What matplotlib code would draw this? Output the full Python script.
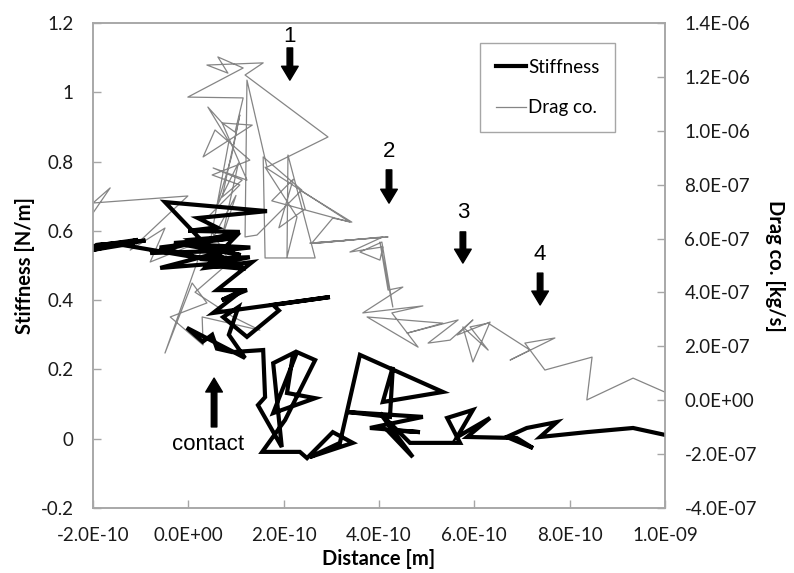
import numpy as np
import matplotlib
matplotlib.use("Agg")
import matplotlib.pyplot as plt
from matplotlib.lines import Line2D

# distance in units of 1e-10 m, stiffness in N/m
dist_stiff = [-2.00, -1.06, -2.00, -1.12, -1.94, -0.90, -1.50,
              0.30, -0.60, 0.90, -0.30, 1.10, 0.20, 1.30, 0.50,
              -0.49, 1.65, 0.20, 0.60, 0.00, 1.08, -0.80,
              0.77, -0.59, 1.00, 0.24, 1.29, 0.40, 1.20,
              0.03, 1.00, 0.35, 1.34, 0.60, 1.23, 0.70, 1.15,
              0.52, 2.97, 1.78, 1.90, 1.23, 0.73, 1.05, 0.85,
              1.19, -0.03, 0.30, 0.50, 0.60, 0.92, 1.57,
              1.61, 1.46, 1.96, 1.78, 2.20,
              2.07, 2.66, 1.78, 2.28, 2.66,
              2.03, 1.55, 2.34, 2.49, 3.03,
              3.45, 2.55, 3.18, 3.60, 5.34,
              4.08, 4.29, 4.23, 3.35, 4.92,
              3.81, 4.86, 4.17, 4.71, 4.02,
              4.65, 5.70, 5.43, 5.97, 5.64,
              6.33, 5.85, 6.89, 7.23, 6.68,
              7.10, 7.73, 7.38, 8.36, 9.33, 10.00]
stiffness = [0.556, 0.574, 0.545, 0.565, 0.559, 0.572, 0.562,
             0.520, 0.552, 0.578, 0.565, 0.530, 0.560, 0.552, 0.540,
             0.683, 0.657, 0.637, 0.610, 0.600, 0.597, 0.536,
             0.542, 0.493, 0.510, 0.519, 0.524, 0.500, 0.490,
             0.574, 0.585, 0.493, 0.510, 0.429, 0.429, 0.400, 0.430,
             0.363, 0.409, 0.386, 0.370, 0.294, 0.351, 0.380, 0.300,
             0.233, 0.320, 0.280, 0.300, 0.260, 0.250, 0.256,
             0.120, 0.097, -0.024, 0.218, 0.247,
             0.132, 0.117, 0.074, 0.250, 0.227,
             0.054, -0.038, -0.038, -0.056, 0.019,
             -0.012, -0.053, -0.012, 0.242, 0.135,
             0.106, 0.207, 0.063, 0.077, 0.063,
             0.031, 0.019, 0.025, -0.053, 0.074,
             -0.012, -0.012, 0.060, 0.083, 0.005,
             0.060, 0.005, 0.002, -0.027, 0.005,
             0.031, 0.048, 0.005, 0.019, 0.031, 0.011]

# distance in units of 1e-10 m, drag coefficient in units of 1e-7 kg/s
dist_drag = [-2.00, -1.64, -2.00, -0.01, -1.22, -0.49, -0.80, 0.35,
             -0.49, 0.08, 0.39, -0.38, 0.31, 0.29, 1.50, 0.94,
             0.14, 0.87, 0.35, 1.08, 0.50, 1.29, 0.56,
             0.31, 1.34, 0.71, 1.23, 0.52, 1.13, 0.71, 1.08,
             0.90, 0.60, 1.05, 0.70, 1.00, 0.45, 0.85,
             0.41, 0.71, 0.98, 1.15, -0.01, 1.15, 0.62, 0.83,
             0.39, 1.57, 1.19, 2.93, 1.65, 1.23, 1.19, 1.44, 2.38,
             1.57, 1.61, 2.66, 2.09, 2.07, 2.28, 1.61, 3.39,
             1.75, 2.20, 1.90, 2.45,
             2.34, 3.43, 3.03, 2.59, 4.19, 2.55, 3.45, 2.70, 4.08,
             3.39, 4.08, 4.02, 3.60, 4.06, 4.29, 4.02, 4.19, 4.50,
             3.66, 4.92, 4.27, 4.82, 3.75, 5.34, 4.59, 5.66, 5.03,
             5.49, 5.97, 5.64, 6.33, 5.97, 5.76, 6.29, 5.91, 6.29,
             7.17, 6.75, 7.69, 7.06, 7.48, 8.47, 8.36, 9.33, 10.00]
drag = [6.95, 7.88, 7.32, 7.58, 5.57, 6.39, 5.13, 5.95,
        1.75, 4.35, 3.61, 3.09, 2.05, 3.09, 2.60, 3.09,
        4.01, 5.13, 6.69, 7.99, 8.36, 8.91, 10.03,
        9.03, 10.21, 10.29, 8.17, 8.62, 8.17, 7.54, 10.59,
        9.00, 7.20, 8.80, 6.00, 7.60, 5.80, 9.60,
        10.88, 10.29, 9.95, 11.22, 11.25, 12.33, 12.74, 12.14,
        12.44, 12.52, 12.07, 9.77, 8.65, 11.88, 6.06, 6.13, 7.80,
        9.03, 5.28, 5.28, 9.10, 5.31, 6.80, 8.65, 6.61,
        7.40, 8.20, 6.40, 7.10,
        7.80, 6.61, 6.76, 5.83, 6.06, 5.83, 5.95, 5.83, 6.06,
        5.50, 5.69, 5.20, 5.50, 5.87, 3.46, 5.87, 4.09, 4.20,
        3.24, 3.50, 3.24, 1.97, 3.09, 2.86, 2.49, 2.98, 2.12,
        2.23, 2.98, 2.42, 2.90, 1.42, 2.72, 1.86, 2.72, 2.86,
        1.86, 1.49, 2.31, 2.12, 1.12, 1.60, 0.01, 0.82, 0.30]

x_ticks = [-2e-10, 0.0, 2e-10, 4e-10, 6e-10, 8e-10, 1e-9]
left_ticks = [-0.2, 0.0, 0.2, 0.4, 0.6, 0.8, 1.0, 1.2]
right_ticks = [-4e-7, -2e-7, 0.0, 2e-7, 4e-7, 6e-7, 8e-7, 1e-6, 1.2e-6, 1.4e-6]

marks = ["1", "2", "3", "4"]

plt.rcParams['font.family'] = ['Lato', 'DejaVu Sans']
plt.rcParams['axes.unicode_minus'] = False

grey = '#a6a6a6'
fig = plt.figure(figsize=(7.94, 5.73), dpi=100)
ax = fig.add_axes([93/794, 65/573, 572/794, 485/573])
ax2 = ax.twinx()

xs = np.array(dist_stiff) * 1e-10
xd = np.array(dist_drag) * 1e-10
ax2.plot(xd, np.array(drag) * 1e-7, color='#858585', lw=0.9)
ax.plot(xs, stiffness, color='black', lw=3.0, solid_joinstyle='miter')

# stiffness drawn over the drag trace
ax.set_zorder(ax2.get_zorder() + 1)
ax.patch.set_visible(False)

ax.set_xlim(-2e-10, 1e-9)
ax.set_ylim(-0.2, 1.2)
ax2.set_ylim(-4e-7, 1.4e-6)


def sci(v):
    if abs(v) < 1e-20:
        v = 0.0
    return format(v, '.1E')


def plain(v):
    if abs(v) < 1e-9:
        return '0'
    return '%g' % round(v, 2)


ax.set_xticks(x_ticks)
ax.set_xticklabels([sci(v) for v in x_ticks])
ax.set_yticks(left_ticks)
ax.set_yticklabels([plain(v) for v in left_ticks])
ax2.set_yticks(right_ticks)
ax2.set_yticklabels([sci(v) for v in right_ticks])

for a in (ax, ax2):
    a.tick_params(direction='in', length=6, width=1, color=grey,
                  labelsize=13.5, pad=14, labelcolor='#1a1a1a')
    for s in a.spines.values():
        s.set_color(grey)
        s.set_linewidth(1.1)
ax.tick_params(axis='x', pad=14)

ax.set_xlabel('Distance [m]', fontsize=14.5, fontweight='bold', labelpad=3)
ax.set_ylabel('Stiffness [N/m]', fontsize=14.5, fontweight='bold', labelpad=4)
ax2.set_ylabel('Drag co. [kg/s]', fontsize=14.5, fontweight='bold',
               rotation=270, labelpad=20)

# numbered arrows and the contact arrow
arrow = dict(facecolor='black', edgecolor='black', width=4, headwidth=12,
             headlength=10, shrink=0)
arrow_x = [2.13e-10, 4.21e-10, 5.76e-10, 7.38e-10]
arrow_top = [1.128, 0.776, 0.597, 0.478]
arrow_tip = [1.035, 0.680, 0.507, 0.386]
label_y = [1.16, 0.828, 0.654, 0.533]
for m, x0, y0, y1, yl in zip(marks, arrow_x, arrow_top, arrow_tip, label_y):
    ax.annotate('', xy=(x0, y1), xytext=(x0, y0), arrowprops=arrow)
    ax.text(x0, yl, m, ha='center', va='center', fontsize=16,
            family='Liberation Sans')

ax.annotate('', xy=(0.54e-10, 0.175), xytext=(0.54e-10, 0.034), arrowprops=arrow)
ax.text(0.42e-10, -0.018, 'contact', ha='center', va='center', fontsize=16,
        family='Liberation Sans')

handles = [Line2D([], [], color='black', lw=3.0),
           Line2D([], [], color='#858585', lw=0.9)]
leg = ax.legend(handles, ['Stiffness', 'Drag co.'], loc='upper left',
                bbox_to_anchor=(0.677, 0.959), borderaxespad=0, fontsize=13.5,
                fancybox=False, edgecolor=grey, framealpha=1,
                handlelength=1.6, handletextpad=0.1, labelspacing=1.25,
                borderpad=0.85)
leg.get_frame().set_linewidth(1.0)

fig.savefig('out.png', dpi=100)
